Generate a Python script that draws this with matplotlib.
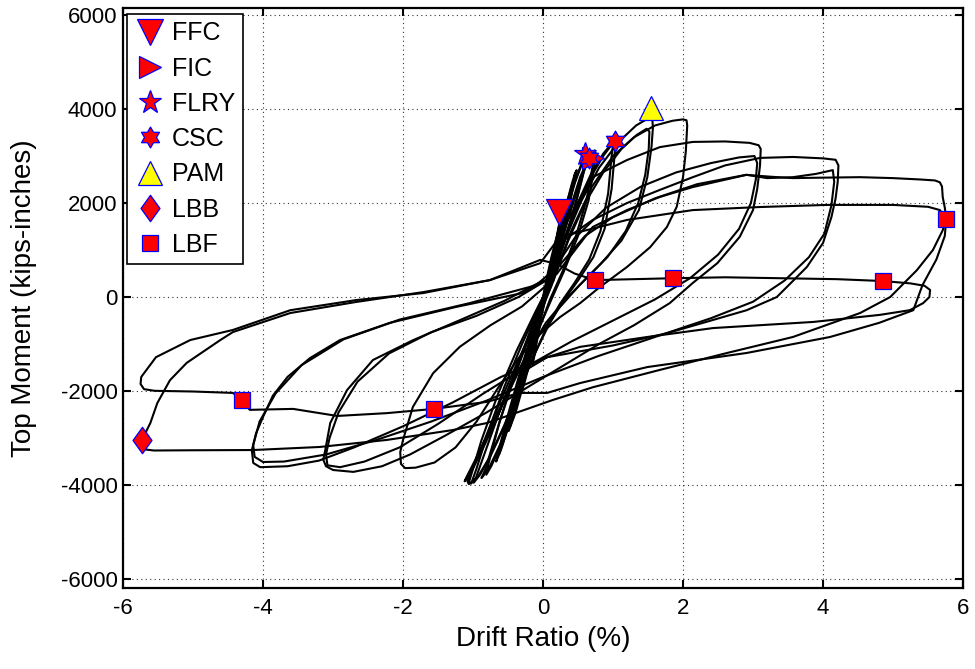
import numpy as np
import matplotlib
matplotlib.use("Agg")
import matplotlib.pyplot as plt
from matplotlib.lines import Line2D
from matplotlib.path import Path

plt.rcParams['font.family'] = ['Liberation Sans', 'DejaVu Sans']

# ---------------- hysteresis data (drift %, moment kip-in) ----------------
c1_d = [0.00, 0.06, 0.12, 0.18, 0.21, 0.19, 0.13, 0.06, 0.00, -0.06, -0.11, -0.15, -0.14, -0.08, -0.02, 0.03]
c1_m = [0, 450, 850, 1200, 1350, 1150, 650, 200, -250, -700, -1150, -1450, -1250, -750, -250, 100]

c2_d = [0.03, 0.10, 0.17, 0.23, 0.27, 0.28, 0.25, 0.17, 0.08, 0.00, -0.09, -0.19, -0.27, -0.31, -0.29, -0.20, -0.09, 0.00, 0.05]
c2_m = [100, 600, 1100, 1550, 1800, 1900, 1650, 1050, 450, -100, -700, -1400, -1850, -2050, -1900, -1300, -650, -100, 200]

c3_d = [0.05, 0.13, 0.23, 0.33, 0.41, 0.46, 0.44, 0.35, 0.22, 0.09, -0.02, -0.14, -0.28, -0.40, -0.47, -0.45, -0.34, -0.19, -0.06, 0.05]
c3_m = [200, 700, 1350, 1950, 2400, 2650, 2450, 1800, 1000, 300, -300, -1000, -1800, -2450, -2750, -2550, -1850, -1050, -350, 250]

c3b_d = [0.04, 0.14, 0.25, 0.36, 0.44, 0.48, 0.45, 0.37, 0.24, 0.11, 0.00, -0.12, -0.26, -0.39, -0.49, -0.48, -0.37, -0.22, -0.08, 0.04]
c3b_m = [150, 750, 1450, 2100, 2500, 2700, 2500, 1900, 1100, 350, -250, -950, -1750, -2450, -2850, -2650, -1950, -1150, -400, 200]

c4_d = [0.06, 0.17, 0.30, 0.43, 0.54, 0.61, 0.64, 0.61, 0.50, 0.35, 0.18, 0.04, -0.10, -0.26, -0.43, -0.56, -0.63, -0.60, -0.46, -0.27, -0.10, 0.05]
c4_m = [250, 900, 1650, 2350, 2800, 3000, 3080, 2850, 2200, 1400, 600, 0, -700, -1550, -2450, -3050, -3350, -3150, -2350, -1350, -550, 200]

c4b_d = [0.05, 0.18, 0.32, 0.46, 0.56, 0.62, 0.63, 0.59, 0.47, 0.31, 0.15, 0.02, -0.12, -0.29, -0.46, -0.60, -0.67, -0.64, -0.50, -0.30, -0.12, 0.04]
c4b_m = [200, 950, 1750, 2450, 2850, 3000, 2980, 2700, 2000, 1200, 450, -100, -800, -1700, -2600, -3250, -3500, -3300, -2500, -1450, -600, 150]

c5_d = [0.07, 0.22, 0.38, 0.53, 0.65, 0.72, 0.74, 0.71, 0.62, 0.47, 0.28, 0.10, -0.05, -0.22, -0.42, -0.60, -0.74, -0.81, -0.78, -0.62, -0.40, -0.18, 0.00, 0.10]
c5_m = [250, 1000, 1850, 2550, 2950, 3100, 3120, 2800, 2050, 1300, 550, -50, -650, -1450, -2400, -3150, -3600, -3780, -3550, -2650, -1600, -700, -50, 350]

c5b_d = [0.08, 0.24, 0.41, 0.56, 0.67, 0.73, 0.75, 0.73, 0.65, 0.50, 0.30, 0.12, -0.04, -0.20, -0.40, -0.60, -0.76, -0.86, -0.88, -0.82, -0.64, -0.42, -0.20, -0.02, 0.09]
c5b_m = [300, 1050, 1900, 2600, 2980, 3100, 3080, 2750, 2050, 1300, 550, -50, -600, -1350, -2300, -3100, -3600, -3820, -3850, -3650, -2750, -1750, -850, -150, 300]

c6_d = [0.10, 0.28, 0.48, 0.68, 0.86, 0.99, 1.05, 1.03, 0.98, 0.88, 0.72, 0.50, 0.28, 0.08, -0.10, -0.30, -0.52, -0.74, -0.90, -0.99, -1.01, -0.95, -0.78, -0.55, -0.30, -0.07, 0.12]
c6_m = [350, 1150, 1950, 2600, 3050, 3280, 3350, 3150, 2300, 1450, 850, 350, -100, -600, -1150, -1850, -2650, -3350, -3780, -3950, -3900, -3650, -2850, -1900, -1000, -250, 400]

c6b_d = [0.12, 0.30, 0.50, 0.70, 0.86, 0.96, 1.00, 0.98, 0.93, 0.82, 0.66, 0.45, 0.24, 0.05, -0.13, -0.34, -0.56, -0.78, -0.93, -1.03, -1.06, -1.02, -0.88, -0.64, -0.38, -0.12, 0.10]
c6b_m = [400, 1150, 1950, 2600, 3000, 3200, 3230, 3000, 2200, 1400, 800, 300, -150, -650, -1250, -1950, -2750, -3450, -3820, -3970, -3950, -3750, -3050, -2050, -1150, -350, 300]

c7_d = [0.12, 0.32, 0.55, 0.80, 1.08, 1.33, 1.50, 1.56, 1.57, 1.55, 1.49, 1.37, 1.12, 0.82, 0.52, 0.22, -0.05, -0.32, -0.58, -0.82, -1.00, -1.08, -1.06, -0.96, -0.78, -0.54, -0.28, -0.04, 0.15]
c7_m = [400, 1250, 2050, 2750, 3300, 3650, 3800, 3820, 3600, 3200, 2550, 1850, 1200, 700, 250, -250, -800, -1500, -2300, -3100, -3650, -3920, -3980, -3850, -3100, -2100, -1150, -350, 350]

c7b_d = [0.15, 0.36, 0.60, 0.86, 1.12, 1.34, 1.48, 1.52, 1.51, 1.46, 1.36, 1.18, 0.92, 0.62, 0.32, 0.04, -0.24, -0.52, -0.78, -0.98, -1.10, -1.12, -1.05, -0.88, -0.62, -0.34, -0.08, 0.12]
c7b_m = [350, 1200, 2000, 2650, 3150, 3450, 3580, 3520, 3150, 2600, 2000, 1400, 850, 400, -50, -550, -1250, -2050, -2900, -3500, -3850, -3920, -3800, -3200, -2250, -1300, -450, 250]

c8_d = [0.15, 0.40, 0.70, 1.00, 1.30, 1.60, 1.85, 2.00, 2.05, 2.06, 2.04, 2.00, 1.91, 1.77, 1.53, 1.20, 0.81, 0.53, 0.24, -0.05, -0.35, -0.65, -0.95, -1.25, -1.55, -1.82, -1.97, -2.03, -2.04, -2.00, -1.86, -1.57, -1.19, -0.75, -0.30, 0.05]
c8_m = [400, 1400, 2350, 3000, 3400, 3650, 3750, 3780, 3760, 3650, 3100, 2550, 1920, 1490, 1060, 640, 210, -130, -430, -800, -1300, -1950, -2650, -3200, -3520, -3630, -3640, -3550, -3300, -3040, -2340, -1620, -1060, -600, -200, 250]

c9_d = [0.05, 0.30, 0.71, 1.20, 1.67, 2.14, 2.60, 2.95, 3.08, 3.11, 3.10, 3.06, 3.00, 2.81, 2.49, 2.14, 1.81, 1.30, 0.80, 0.30, -0.20, -0.80, -1.40, -1.90, -2.30, -2.71, -3.00, -3.10, -3.14, -3.11, -3.04, -2.80, -2.43, -1.86, -1.20, -0.55, 0.00]
c9_m = [300, 1500, 2550, 2915, 3190, 3300, 3310, 3280, 3230, 3150, 2800, 2300, 1850, 1280, 720, 300, -130, -600, -1000, -1450, -1900, -2450, -2950, -3350, -3600, -3720, -3680, -3600, -3460, -3250, -2680, -1980, -1340, -920, -500, -80, 350]

c10_d = [0.05, 0.45, 0.90, 1.40, 1.90, 2.40, 2.80, 3.02, 3.06, 3.04, 2.97, 2.80, 2.50, 2.10, 1.60, 1.00, 0.40, -0.20, -0.85, -1.50, -2.05, -2.55, -2.90, -3.08, -3.10, -3.05, -2.92, -2.65, -2.20, -1.60, -0.95, -0.35, 0.10]
c10_m = [350, 1250, 1900, 2350, 2650, 2850, 2970, 3000, 2850, 2500, 2000, 1450, 900, 400, -50, -500, -950, -1450, -2050, -2700, -3200, -3500, -3620, -3580, -3350, -3000, -2450, -1800, -1200, -750, -400, 0, 400]

c11_d = [0.10, 0.24, 0.71, 1.20, 1.67, 2.14, 2.60, 3.10, 3.57, 4.00, 4.18, 4.22, 4.21, 4.18, 4.12, 4.00, 3.77, 3.34, 2.91, 2.40, 1.77, 1.00, 0.06, -0.60, -1.30, -2.00, -2.70, -3.20, -3.65, -4.04, -4.14, -4.16, -4.10, -4.00, -3.86, -3.65, -3.33, -2.90, -2.19, -1.24, -0.29, 0.20]
c11_m = [600, 1150, 1640, 2000, 2280, 2550, 2800, 2960, 2980, 2950, 2920, 2800, 2450, 2100, 1700, 1150, 640, 0, -280, -500, -770, -1030, -1280, -1700, -2250, -2750, -3200, -3480, -3600, -3620, -3530, -3260, -2900, -2550, -2100, -1700, -1300, -915, -550, -210, 85, 500]

c12_d = [0.20, 0.71, 1.20, 1.67, 2.14, 2.91, 3.20, 3.57, 3.90, 4.14, 4.16, 4.12, 4.02, 3.80, 3.45, 3.00, 2.40, 1.60, 0.80, 0.00, -0.80, -1.60, -2.40, -3.10, -3.70, -4.00, -4.12, -4.14, -4.05, -3.82, -3.45, -2.85, -2.05, -1.05, -0.10, 0.25]
c12_m = [500, 1490, 1850, 2130, 2340, 2600, 2530, 2550, 2620, 2700, 2450, 1950, 1350, 850, 350, -100, -450, -850, -1250, -1700, -2200, -2650, -3050, -3350, -3500, -3510, -3400, -3150, -2650, -2050, -1450, -900, -480, -130, 250, 700]

c13_d = [0.25, 0.60, 1.00, 1.60, 2.20, 2.90, 3.25, 3.57, 4.00, 4.53, 5.00, 5.40, 5.60, 5.67, 5.70, 5.71, 5.74, 5.76, 5.71, 5.57, 5.34, 5.10, 4.96, 4.53, 3.57, 2.63, 1.67, 0.71, 0.14, -0.80, -1.29, -2.23, -3.19, -4.14, -5.00, -5.56, -5.70, -5.76, -5.73, -5.61, -5.51, -5.33, -5.09, -4.61, -4.43, -3.61, -2.67, -1.71, -0.76, -0.04, 0.24]
c13_m = [700, 1300, 1700, 2100, 2400, 2600, 2560, 2530, 2540, 2550, 2530, 2500, 2480, 2440, 2350, 2130, 1900, 1660, 1420, 1000, 570, 210, 0, -340, -850, -1190, -1550, -1920, -2190, -2680, -2830, -3040, -3190, -3255, -3260, -3265, -3240, -3180, -3040, -2680, -2255, -1770, -1400, -915, -745, -340, -105, 105, 360, 720, 1280]

c14_d = [0.24, 1.20, 2.14, 3.10, 4.06, 5.00, 5.50, 5.67, 5.76, 5.74, 5.62, 5.42, 5.29, 4.80, 4.10, 2.91, 1.49, 0.53, 0.06, -0.33, -0.80, -1.56, -2.23, -2.94, -3.57, -4.19, -4.30, -4.43, -5.00, -5.55, -5.70, -5.75, -5.74, -5.53, -5.04, -4.43, -3.61, -2.67, -1.71, -0.76, -0.04]
c14_m = [1280, 1640, 1850, 1915, 1960, 1960, 1920, 1850, 1660, 1300, 800, 250, -280, -550, -850, -1190, -1490, -1830, -2040, -2040, -2230, -2380, -2470, -2530, -2380, -2400, -2190, -2040, -2010, -1995, -1960, -1850, -1700, -1280, -915, -700, -280, -65, 85, 360, 790]

c15_d = [-0.04, 0.20, 0.45, 0.74, 1.30, 1.86, 2.60, 3.40, 4.20, 4.86, 5.25, 5.45, 5.53, 5.52, 5.43, 5.24, 4.81, 3.86, 2.43, 1.49, 0.53, 0.06, -0.30]
c15_m = [790, 700, 500, 360, 380, 400, 420, 400, 380, 340, 290, 240, 150, 0, -130, -280, -380, -530, -660, -850, -1060, -1280, -1600]

# ---------------- damage-state markers ----------------
ffc_d, ffc_m = [0.23], [1800]
fic_d, fic_m = [0.72], [2950]
flry_d, flry_m = [0.60], [3050]
csc_d, csc_m = [0.66, 1.03], [2950, 3310]
pam_d, pam_m = [1.54], [4020]
lbb_d, lbb_m = [-5.73], [-3050]
lbf_d = [-4.30, -1.56, 0.74, 1.86, 4.86, 5.76]
lbf_m = [-2190, -2380, 360, 400, 340, 1660]

xticks = [-6, -4, -2, 0, 2, 4, 6]
yticks = [-6000, -4000, -2000, 0, 2000, 4000, 6000]

cycles = [(c1_d, c1_m), (c2_d, c2_m), (c3_d, c3_m), (c3b_d, c3b_m), (c4_d, c4_m),
          (c4b_d, c4b_m), (c5_d, c5_m), (c5b_d, c5b_m), (c6_d, c6_m), (c6b_d, c6b_m),
          (c7_d, c7_m), (c7b_d, c7b_m), (c8_d, c8_m), (c9_d, c9_m), (c10_d, c10_m),
          (c11_d, c11_m), (c12_d, c12_m), (c13_d, c13_m), (c14_d, c14_m), (c15_d, c15_m)]

# marker shapes
ang = np.deg2rad(np.arange(12) * 30 + 90)
rad = np.where(np.arange(12) % 2 == 0, 1.0, 0.577)
hex_verts = np.column_stack([rad * np.cos(ang), rad * np.sin(ang)])
hexagram = Path(np.vstack([hex_verts, hex_verts[:1]]), closed=True)
tall_diamond = Path([(0, 1), (0.72, 0), (0, -1), (-0.72, 0), (0, 1)], closed=True)

fig = plt.figure(figsize=(9.75, 6.69), dpi=100)
ax = fig.add_axes([0.1262, 0.1211, 0.8615, 0.8670])

for d, m in cycles:
    ax.plot(d, m, color='black', lw=1.5, solid_joinstyle='round', solid_capstyle='round', zorder=2)

blue = '#0000ff'
styles = [
    ('FFC', ffc_d, ffc_m, 'v', 'red', 19),
    ('FIC', fic_d, fic_m, '>', 'red', 16),
    ('FLRY', flry_d, flry_m, '*', 'red', 17),
    ('CSC', csc_d, csc_m, hexagram, 'red', 15),
    ('PAM', pam_d, pam_m, '^', 'yellow', 17),
    ('LBB', lbb_d, lbb_m, tall_diamond, 'red', 19),
    ('LBF', lbf_d, lbf_m, 's', 'red', 12),
]
handles = []
for lab, d, m, mk, fc, ms in styles:
    ax.plot(d, m, linestyle='none', marker=mk, markerfacecolor=fc, markeredgecolor=blue,
            markeredgewidth=0.9, markersize=ms, zorder=3)
    handles.append(Line2D([], [], linestyle='none', marker=mk, markerfacecolor=fc,
                          markeredgecolor=blue, markeredgewidth=0.9, markersize=ms, label=lab))

ax.set_xlim(-6, 6)
ax.set_ylim(-6190, 6150)
ax.set_xticks(xticks)
ax.set_yticks(yticks)
ax.set_xticklabels([str(t) for t in xticks])
ax.set_yticklabels([str(t) for t in yticks])
ax.grid(True, color='#333333', linestyle=(0, (1, 3)), linewidth=0.8)
ax.set_axisbelow(True)
ax.tick_params(direction='in', length=6, width=1.5, top=True, right=True, labelsize=16)
ax.tick_params(axis='x', pad=7)
ax.tick_params(axis='y', pad=4)
for s in ax.spines.values():
    s.set_linewidth(1.6)
ax.set_xlabel('Drift Ratio (%)', fontsize=20, labelpad=5)
ax.set_ylabel('Top Moment (kips-inches)', fontsize=20, labelpad=17)

leg = ax.legend(handles=handles, loc='upper left', bbox_to_anchor=(0.005, 0.99), borderaxespad=0,
                fontsize=18, frameon=True, fancybox=False, framealpha=1, edgecolor='black',
                handlelength=1.2, handletextpad=0.3, labelspacing=0.45, borderpad=0.3)
leg.get_frame().set_linewidth(1.2)

fig.savefig('out.png', dpi=100)
